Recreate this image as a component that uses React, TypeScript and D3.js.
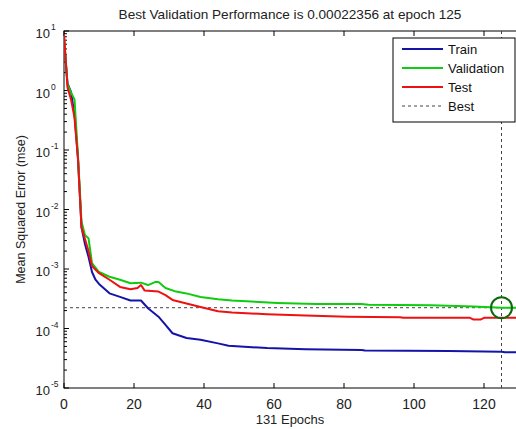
import React from "react";
import * as d3 from "d3";

const trainEpochs = [0, 1, 2, 3, 4, 5, 6, 7, 8, 9, 10, 13, 16, 19, 22, 24, 27, 29, 31, 35, 39, 44, 47, 58, 69, 85, 86, 110, 125, 126, 131];
const trainMse = [7.1, 1.32, 0.95, 0.4, 0.071, 0.005, 0.0026, 0.0016, 0.00089, 0.00066, 0.00056, 0.00039, 0.00034, 0.000295, 0.000295, 0.000219, 0.000158, 0.000115, 0.0000832, 0.0000692, 0.0000646, 0.0000562, 0.0000513, 0.0000468, 0.0000447, 0.0000437, 0.0000427, 0.0000417, 0.0000407, 0.0000398, 0.0000398];

const valEpochs = [0, 1, 2, 3, 4, 5, 6, 7, 8, 10, 13, 16, 19, 22, 24, 26, 27, 29, 32, 35, 39, 44, 48, 61, 72, 85, 87, 105, 117, 125, 131];
const valMse = [7.9, 1.26, 0.93, 0.71, 0.079, 0.0063, 0.0037, 0.0033, 0.00126, 0.00089, 0.00074, 0.00066, 0.000575, 0.000589, 0.000537, 0.000603, 0.000603, 0.000479, 0.000417, 0.000389, 0.000339, 0.000309, 0.000295, 0.000269, 0.000257, 0.000257, 0.000251, 0.000245, 0.000234, 0.00022356, 0.000224];

const testEpochs = [0, 1, 2, 3, 4, 5, 6, 7, 8, 10, 13, 16, 19, 21, 22, 23, 27, 29, 31, 35, 39, 44, 48, 58, 69, 81, 96, 97, 116, 117, 119, 120, 131];
const testMse = [8.9, 1.12, 0.71, 0.35, 0.071, 0.005, 0.0032, 0.002, 0.00112, 0.00085, 0.00066, 0.0005, 0.000457, 0.000479, 0.000537, 0.000437, 0.000417, 0.000363, 0.000302, 0.000263, 0.000229, 0.000195, 0.000186, 0.000174, 0.000166, 0.000158, 0.000155, 0.000151, 0.000151, 0.000141, 0.000141, 0.000151, 0.000151];

const bestEpoch = 125;
const bestPerf = 0.00022356;
const totalEpochs = 131;
const xTicks = [0, 20, 40, 60, 80, 100, 120];
const yExponents = [1, 0, -1, -2, -3, -4, -5];
const legendLabels = ["Train", "Validation", "Test", "Best"];
const seriesColors = ["#1414a8", "#10cc10", "#ee1111"];

const W = 516;
const H = 429;
const left = 64;
const top = 31;
const bottom = 388;
const right = left + totalEpochs * 3.5;

export default function App() {
  const x = d3.scaleLinear().domain([0, totalEpochs]).range([left, right]);
  const y = d3.scaleLog().domain([1e-5, 10]).range([bottom, top]);
  const line = d3
    .line<[number, number]>()
    .x((d) => x(d[0]))
    .y((d) => y(d[1]));

  const series = [
    { e: trainEpochs, v: trainMse },
    { e: valEpochs, v: valMse },
    { e: testEpochs, v: testMse },
  ];

  const minor: number[] = [];
  for (let k = -5; k < 1; k++) {
    for (let m = 2; m <= 9; m++) minor.push(m * Math.pow(10, k));
  }

  const font = "Arial, 'Liberation Sans', sans-serif";
  const legX = 393;
  const legY = 38;
  const legW = 122;
  const legH = 84;
  const rowY = [49, 68, 87, 106];

  return (
    <svg
      width={W}
      height={H}
      style={{ position: "absolute", left: 0, top: 0, background: "#fff" }}
      fontFamily={font}
    >
      <defs>
        <clipPath id="plotclip">
          <rect x={left} y={top} width={right - left} height={bottom - top} />
        </clipPath>
      </defs>
      <rect x={0} y={0} width={W} height={H} fill="#fff" />
      <text x={290} y={19} fontSize={13.6} textAnchor="middle" fill="#222">
        Best Validation Performance is 0.00022356 at epoch 125
      </text>

      {/* axes frame */}
      <rect x={left} y={top} width={right - left} height={bottom - top} fill="#fff" stroke="#000" strokeWidth={1} />

      {/* x ticks */}
      {xTicks.map((t) => (
        <g key={"xt" + t}>
          <line x1={x(t)} x2={x(t)} y1={bottom} y2={bottom - 5} stroke="#000" />
          <line x1={x(t)} x2={x(t)} y1={top} y2={top + 5} stroke="#000" />
          <text x={x(t)} y={409} fontSize={14} textAnchor="middle" fill="#222">
            {t}
          </text>
        </g>
      ))}

      {/* y ticks */}
      {yExponents.map((k) => (
        <g key={"yt" + k}>
          <line x1={left} x2={left + 5} y1={y(Math.pow(10, k))} y2={y(Math.pow(10, k))} stroke="#000" />
          <text x={50} y={y(Math.pow(10, k)) + 7} fontSize={13} textAnchor="end" fill="#222">
            10
          </text>
          <text x={51} y={y(Math.pow(10, k)) - 1} fontSize={8.5} textAnchor="start" fill="#222">
            {k}
          </text>
        </g>
      ))}
      {minor.map((v, i) => (
        <line key={"mn" + i} x1={left} x2={left + 3} y1={y(v)} y2={y(v)} stroke="#000" />
      ))}

      <text x={290} y={424} fontSize={13} textAnchor="middle" fill="#222">
        131 Epochs
      </text>
      <text
        transform={`translate(25,${(top + bottom) / 2}) rotate(-90)`}
        fontSize={12.5}
        textAnchor="middle"
        fill="#222"
      >
        Mean Squared Error  (mse)
      </text>

      <g clipPath="url(#plotclip)">
        {/* best lines */}
        <line x1={left} x2={right} y1={y(bestPerf)} y2={y(bestPerf)} stroke="#444" strokeDasharray="3,3" strokeWidth={1} />
        <line x1={x(bestEpoch)} x2={x(bestEpoch)} y1={top} y2={bottom} stroke="#444" strokeDasharray="3,3" strokeWidth={1} />
        {series.map((s, i) => (
          <path
            key={"s" + i}
            d={line(s.e.map((e, j) => [e, s.v[j]] as [number, number])) || ""}
            fill="none"
            stroke={seriesColors[i]}
            strokeWidth={2}
            strokeLinejoin="round"
          />
        ))}
        <circle cx={x(bestEpoch)} cy={y(bestPerf)} r={10.5} fill="none" stroke="#0a6a0a" strokeWidth={2} />
      </g>

      {/* legend */}
      <rect x={legX} y={legY} width={legW} height={legH} fill="#fff" stroke="#000" strokeWidth={1} />
      {legendLabels.map((lab, i) => (
        <g key={"lg" + i}>
          <line
            x1={402}
            x2={443}
            y1={rowY[i]}
            y2={rowY[i]}
            stroke={i < 3 ? seriesColors[i] : "#444"}
            strokeWidth={i < 3 ? 2 : 1}
            strokeDasharray={i < 3 ? undefined : "3,3"}
          />
          <text x={448} y={rowY[i] + 5} fontSize={13} fill="#111">
            {lab}
          </text>
        </g>
      ))}
    </svg>
  );
}
